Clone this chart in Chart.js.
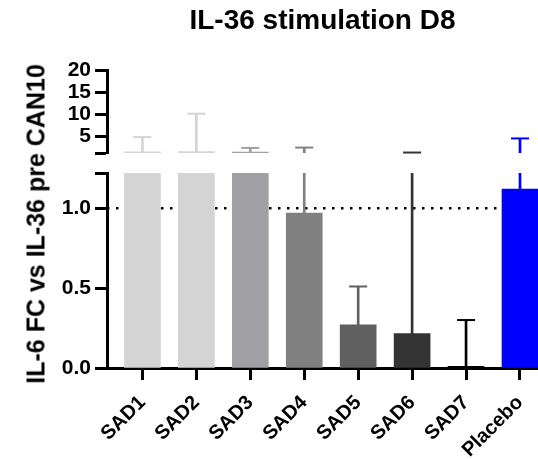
<!DOCTYPE html>
<html><head><meta charset="utf-8">
<script src="https://cdn.jsdelivr.net/npm/chart.js@4.4.1/dist/chart.umd.min.js"></script>
<style>
html,body{margin:0;padding:0;background:#fff;width:538px;height:459px;overflow:hidden;}
#wrap{position:relative;width:538px;height:459px;}
canvas{position:absolute;left:0;top:0;}
#ylab{position:absolute;left:36px;top:224px;transform:translate(-50%,-50%) rotate(-90deg);font:bold 25px "Liberation Sans",Arial,sans-serif;white-space:nowrap;color:#000;}
</style></head><body>
<div id="wrap">
<canvas id="lower" width="538" height="459"></canvas>
<canvas id="upper" width="538" height="459"></canvas>
<div id="ylab">IL-6 FC vs IL-36 pre CAN10</div>
</div>
<script>
const categories = ['SAD1','SAD2','SAD3','SAD4','SAD5','SAD6','SAD7','Placebo'];
const means  = [1.45, 1.5, 1.4, 0.97, 0.27, 0.215, 0.01, 1.12];
const errors = [3.35, 8.6, 0.95, 1.46, 0.24, 1.09, 0.29, 3.38];
const barColors = ['#d4d4d4','#d4d4d4','#a0a0a4','#808080','#606060','#333333','#000000','#0000ff'];
const lowerTicks = [0, 0.5, 1.0];
const upperTicks = [5, 10, 15, 20];
const lowerRange = [0, 1.22];
const upperRange = [1.2, 20];
const refLine = 1.0;
const titleText = 'IL-36 stimulation D8';

const xMin = -0.657, xMax = 7.334;
const FONT = '"Liberation Sans", Arial, sans-serif';
Chart.defaults.font.family = FONT;
Chart.defaults.font.weight = 'bold';
Chart.defaults.color = '#000';

function makeDatasets(capClip) {
  return [
    { type:'bar', data: categories.map((c,i)=>({x:i, y:means[i]})),
      backgroundColor: barColors, barThickness: 36, grouped:false, clip:0, order:0 },
    { type:'bar', data: categories.map((c,i)=>({x:i, y:[means[i], means[i]+errors[i]]})),
      backgroundColor: barColors, barThickness: 2, grouped:false, clip:0, order:1 },
    { type:'line', showLine:false, data: categories.map((c,i)=>({x:i, y:means[i]+errors[i]})),
      pointStyle:'line', pointRadius:9, pointHoverRadius:9, pointBorderWidth:2,
      pointBorderColor: barColors, pointBackgroundColor: barColors, clip: capClip, order:2 }
  ];
}

function yScale(range, ticks, extra, fmt) {
  return {
    type:'linear', min: range[0], max: range[1],
    afterBuildTicks: s => { s.ticks = ticks.concat([extra]).map(v => ({value:v})); },
    afterFit: s => { s.width = 107; },
    ticks: { autoSkip:false, padding:4, color:'#000', font:{size:21, weight:'bold'},
      callback: v => ticks.includes(v) ? fmt(v) : '' },
    grid: { drawOnChartArea:false, drawTicks:true, tickLength:12, tickWidth:3, tickColor:'#000' },
    border: { display:true, color:'#000', width:3 }
  };
}

// lower segment (with x axis)
const lowerDs = makeDatasets(0);
lowerDs.push({ type:'line', data:[{x:xMin, y:refLine},{x:xMax, y:refLine}],
  borderColor:'#000', borderWidth:2.5, borderDash:[2.5,6.5], pointRadius:0, clip:0, order:3 });

new Chart(document.getElementById('lower'), {
  type:'bar',
  data:{ datasets: lowerDs },
  options:{
    responsive:false, animation:false, devicePixelRatio:1, events:[],
    layout:{ autoPadding:false, padding:{ top:173, right:0, bottom:0, left:0 } },
    plugins:{ legend:{display:false}, tooltip:{enabled:false}, title:{display:false} },
    scales:{
      x:{ type:'linear', min:xMin, max:xMax, offset:false,
        afterBuildTicks: s => { s.ticks = categories.map((c,i)=>({value:i})); },
        afterFit: s => { s.height = 91; s.paddingLeft = 0; s.paddingRight = 0; },
        ticks:{ autoSkip:false, maxRotation:45, minRotation:45, padding:11, color:'#000',
          font:{size:20, weight:'bold'}, callback: v => categories[Math.round(v)] },
        grid:{ offset:false, drawOnChartArea:false, drawTicks:true, tickLength:12, tickWidth:3, tickColor:'#000' },
        border:{ display:true, color:'#000', width:3 } },
      y: yScale(lowerRange, lowerTicks, lowerRange[1], v => v.toFixed(1))
    }
  }
});

// upper segment (with title)
new Chart(document.getElementById('upper'), {
  type:'bar',
  data:{ datasets: makeDatasets({left:0, right:0, top:0, bottom:2}) },
  options:{
    responsive:false, animation:false, devicePixelRatio:1, events:[],
    layout:{ autoPadding:false, padding:{ top:0, right:0, bottom:306, left:0 } },
    plugins:{ legend:{display:false}, tooltip:{enabled:false},
      title:{ display:true, text:titleText, fullSize:false, color:'#000',
        font:{size:28, weight:'bold', lineHeight:1.2}, padding:{top:4, bottom:32.4} } },
    scales:{
      x:{ type:'linear', min:xMin, max:xMax, offset:false, display:false },
      y: yScale(upperRange, upperTicks, upperRange[0], v => String(v))
    }
  }
});
</script>
</body></html>
